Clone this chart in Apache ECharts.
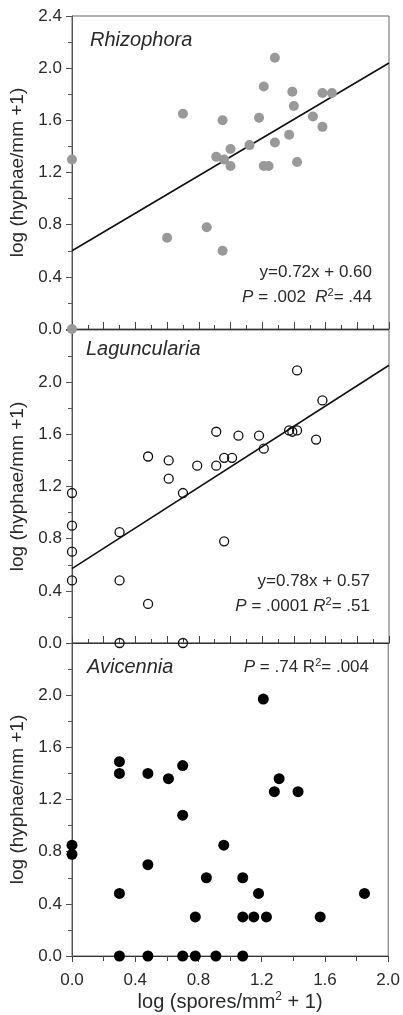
<!DOCTYPE html>
<html>
<head>
<meta charset="utf-8">
<script src="https://cdn.jsdelivr.net/npm/echarts@6/dist/echarts.min.js"></script>
<style>
html,body{margin:0;padding:0;background:#fff;}
#chart{width:403px;height:1015px;}
</style>
</head>
<body>
<div id="chart"></div>
<script>
// ---- data ----
const rhizophora = [
  [0.00, 1.30], [0.00, 0.00], [0.60, 0.70], [0.70, 1.65], [0.85, 0.78],
  [0.95, 0.60], [0.95, 1.60], [0.91, 1.32], [0.96, 1.30], [1.00, 1.38],
  [1.00, 1.25], [1.12, 1.41], [1.18, 1.62], [1.21, 1.86], [1.21, 1.25],
  [1.24, 1.25], [1.28, 2.08], [1.28, 1.43], [1.37, 1.49], [1.39, 1.82],
  [1.40, 1.71], [1.42, 1.28], [1.52, 1.63], [1.58, 1.55], [1.58, 1.81],
  [1.64, 1.81]
];
const rhizophoraFit = [[0, 0.60], [2.0, 2.04]];

const laguncularia = [
  [0.00, 1.15], [0.00, 0.90], [0.00, 0.70], [0.00, 0.48], [0.30, 0.85],
  [0.30, 0.48], [0.30, 0.00], [0.48, 1.43], [0.48, 0.30], [0.61, 1.40],
  [0.61, 1.26], [0.70, 1.15], [0.70, 0.00], [0.79, 1.36], [0.91, 1.62],
  [0.91, 1.36], [0.96, 1.42], [0.96, 0.78], [1.01, 1.42], [1.05, 1.59],
  [1.18, 1.59], [1.21, 1.49], [1.37, 1.63], [1.39, 1.62], [1.42, 1.63],
  [1.42, 2.09], [1.54, 1.56], [1.58, 1.86]
];
const lagunculariaFit = [[0, 0.57], [2.0, 2.13]];

const avicennia = [
  [0.00, 0.85], [0.00, 0.78], [0.30, 1.49], [0.30, 1.40], [0.30, 0.48],
  [0.30, 0.00], [0.48, 1.40], [0.48, 0.70], [0.48, 0.00], [0.61, 1.36],
  [0.70, 1.46], [0.70, 1.08], [0.70, 0.00], [0.78, 0.30], [0.78, 0.00],
  [0.85, 0.60], [0.91, 0.00], [0.96, 0.85], [1.08, 0.60], [1.08, 0.30],
  [1.08, 0.00], [1.15, 0.30], [1.18, 0.48], [1.21, 1.97], [1.23, 0.30],
  [1.28, 1.26], [1.31, 1.36], [1.43, 1.26], [1.57, 0.30], [1.85, 0.48]
];

const panelNames = ['Rhizophora', 'Laguncularia', 'Avicennia'];
const rhizStats = ['y=0.72x + 0.60', '{i|P} = .002  {i|R}{sup|2}= .44'];
const laguStats = ['y=0.78x + 0.57', '{i|P} = .0001 {i|R}{sup|2}= .51'];
const avicStats = '{i|P} = .74 R{sup|2}= .004';
const yAxisName = 'log (hyphae/mm +1)';
const xAxisName = 'log (spores/mm{sup|2} + 1)';

// ---- layout ----
const FONT = '"Liberation Sans", Arial, Helvetica, sans-serif';
const TXT = '#2a2a2a';
const AX = '#555';
const L = 72, W = 317, H = 313;
const tops = [16, 330, 643];

const grids = tops.map(t => ({
  left: L, top: t, width: W, height: H,
  show: true, borderColor: '#666', borderWidth: 1, backgroundColor: 'transparent'
}));

function yAxis(i) {
  return {
    type: 'value', gridIndex: i, min: 0, max: 2.4, interval: 0.4,
    showMaxLabel: i === 0,
    name: yAxisName, nameLocation: 'middle', nameGap: 38,
    nameTextStyle: { fontFamily: FONT, fontSize: 19, color: TXT },
    axisLine: { show: true, lineStyle: { color: AX, width: 1 } },
    axisTick: { show: true, inside: false, length: 6, lineStyle: { color: AX } },
    minorTick: { show: true, splitNumber: 2, length: 4, lineStyle: { color: AX } },
    splitLine: { show: false },
    axisLabel: {
      fontFamily: FONT, fontSize: 17, color: TXT, margin: 10,
      formatter: v => v.toFixed(1),
      showMaxLabel: i === 0
    }
  };
}

function xInner(i) {
  return {
    type: 'value', gridIndex: i, min: 0, max: 2, interval: 0.2,
    axisLine: { show: true, onZero: false, lineStyle: { color: '#333', width: 1.2 } },
    axisTick: { show: true, inside: true, length: 7, lineStyle: { color: '#444' } },
    minorTick: { show: true, splitNumber: 2, length: 4, lineStyle: { color: '#444' } },
    axisLabel: { show: false },
    splitLine: { show: false }
  };
}

const xAxes = [
  xInner(0),
  xInner(1),
  {
    type: 'value', gridIndex: 2, min: 0, max: 2, interval: 0.4,
    name: xAxisName, nameLocation: 'middle', nameGap: 35,
    nameTextStyle: {
      fontFamily: FONT, fontSize: 20, color: TXT,
      rich: { sup: { fontFamily: FONT, fontSize: 12, color: TXT, verticalAlign: 'top', lineHeight: 22 } }
    },
    axisLine: { show: true, onZero: false, lineStyle: { color: '#333', width: 1.2 } },
    axisTick: { show: true, inside: false, length: 6, lineStyle: { color: '#444' } },
    axisLabel: { fontFamily: FONT, fontSize: 17, color: TXT, margin: 16, formatter: v => v.toFixed(1) },
    splitLine: { show: false }
  },
  {
    type: 'value', gridIndex: 2, min: 0, max: 2, interval: 0.2,
    axisLine: { show: false },
    axisTick: { show: true, inside: true, length: 5, lineStyle: { color: '#444' } },
    axisLabel: { show: false },
    splitLine: { show: false }
  }
];

const richBase = {
  i: { fontFamily: FONT, fontSize: 17, fontStyle: 'italic', fill: TXT, color: TXT },
  sup: { fontFamily: FONT, fontSize: 11, fill: TXT, color: TXT, verticalAlign: 'top', lineHeight: 20 }
};

function txt(x, y, text, align, italic, size) {
  return {
    type: 'text', x: x, y: y, z: 100,
    style: {
      text: text, align: align, verticalAlign: 'middle',
      font: (italic ? 'italic ' : '') + size + 'px ' + FONT,
      fill: TXT,
      rich: richBase
    }
  };
}

const graphics = [
  txt(90, 40, panelNames[0], 'left', true, 20),
  txt(372, 272, rhizStats[0], 'right', false, 17),
  txt(372, 297, rhizStats[1], 'right', false, 17),
  txt(86, 349, panelNames[1], 'left', true, 20),
  txt(370, 581, laguStats[0], 'right', false, 17),
  txt(370, 606, laguStats[1], 'right', false, 17),
  txt(87, 667, panelNames[2], 'left', true, 20),
  txt(369, 667, avicStats, 'right', false, 17)
];

const option = {
  animation: false,
  backgroundColor: '#fff',
  grid: grids,
  xAxis: xAxes,
  yAxis: [yAxis(0), yAxis(1), yAxis(2)],
  graphic: graphics,
  series: [
    {
      type: 'line', xAxisIndex: 0, yAxisIndex: 0, data: rhizophoraFit,
      showSymbol: false, symbol: 'none', lineStyle: { color: '#111', width: 1.6 }, z: 3
    },
    {
      type: 'scatter', xAxisIndex: 0, yAxisIndex: 0, data: rhizophora,
      symbolSize: 10, clip: false, itemStyle: { color: '#999999', opacity: 1 }, z: 4,
      emphasis: { disabled: true }
    },
    {
      type: 'line', xAxisIndex: 1, yAxisIndex: 1, data: lagunculariaFit,
      showSymbol: false, symbol: 'none', lineStyle: { color: '#111', width: 1.6 }, z: 3
    },
    {
      type: 'scatter', xAxisIndex: 1, yAxisIndex: 1, data: laguncularia,
      symbolSize: 9, clip: false,
      itemStyle: { color: 'rgba(255,255,255,0)', borderColor: '#111', borderWidth: 1.3, opacity: 1 }, z: 4,
      emphasis: { disabled: true }
    },
    {
      type: 'scatter', xAxisIndex: 2, yAxisIndex: 2, data: avicennia,
      symbolSize: 11, clip: false, itemStyle: { color: '#000', opacity: 1 }, z: 4,
      emphasis: { disabled: true }
    }
  ]
};

const chart = echarts.init(document.getElementById('chart'), null, { renderer: 'canvas' });
chart.setOption(option);
</script>
</body>
</html>
